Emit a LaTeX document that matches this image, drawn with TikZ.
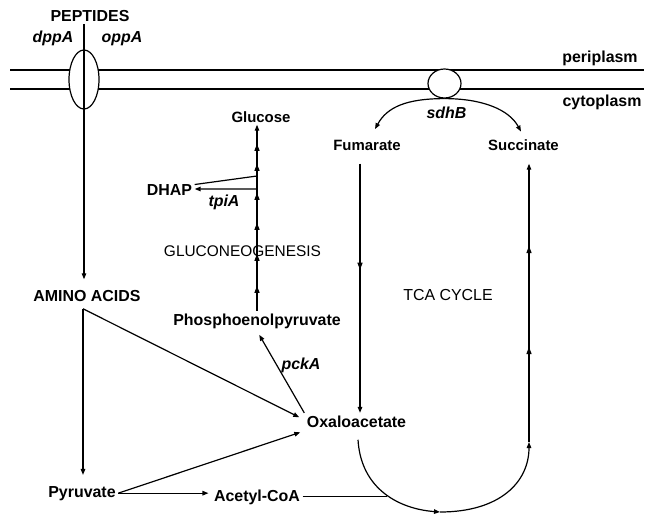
\documentclass[tikz,border=0pt]{standalone}
\usepackage{fontspec}
\setmainfont{Liberation Sans}
\usepackage{tikz}
\usetikzlibrary{arrows.meta,shapes.geometric,decorations.markings}

\begin{document}
\begin{tikzpicture}[>={Triangle[length=6bp,width=4.5bp]}, line width=1.2bp,
	lbl/.style={font=\fontsize{16}{18}\selectfont\bfseries, inner sep=2bp, anchor=base},
	sml/.style={lbl, font=\fontsize{15}{17}\selectfont\bfseries},
	gene/.style={lbl, font=\fontsize{16}{18}\selectfont\bfseries\itshape},
	txt/.style={lbl, font=\fontsize{16}{18}\selectfont},
	pore/.style={draw, fill=white, ellipse, inner sep=0bp}]
	\useasboundingbox (0bp,0bp) rectangle (654bp,-524bp);

	\draw (10bp,-70bp) -- (644bp,-70bp);
	\draw (10bp,-89bp) -- (644bp,-89bp);
	\node[pore, minimum width=30bp, minimum height=59bp] (porin) at (84bp,-79.5bp)  {};
	\node[pore, minimum width=33bp, minimum height=29bp] (sdh)   at (444.5bp,-83.5bp) {};

	\node[lbl]  (peptides) at (90bp,-21bp)     {PEPTIDES};
	\node[gene] (dppA)     at (53bp,-42bp)     {dppA};
	\node[gene] (oppA)     at (122bp,-42bp)    {oppA};
	\node[lbl]  (peri)     at (600bp,-62.5bp)  {periplasm};
	\node[lbl]  (cyto)     at (602bp,-106bp)   {cytoplasm};
	\node[gene] (sdhB)     at (446.5bp,-118bp) {sdhB};
	\node[sml]  (glucose)  at (261bp,-122bp)   {Glucose};
	\node[sml]  (fumarate) at (367bp,-150bp)   {Fumarate};
	\node[sml]  (succ)     at (523.5bp,-150bp) {Succinate};
	\node[lbl]  (dhap)     at (169.5bp,-195bp) {DHAP};
	\node[gene] (tpiA)     at (224bp,-206bp)   {tpiA};
	\node[txt, font=\fontsize{15.5}{17}\selectfont] (gng) at (242.5bp,-256bp) {GLUCONEOGENESIS};
	\node[lbl]  (amino)    at (87bp,-301bp)    {AMINO ACIDS};
	\node[txt]  (tca)      at (448bp,-300bp)   {TCA CYCLE};
	\node[lbl]  (pep)      at (257bp,-325bp)   {Phosphoenolpyruvate};
	\node[gene] (pckA)     at (301bp,-369bp)   {pckA};
	\node[lbl]  (oxa)      at (356.5bp,-427bp) {Oxaloacetate};
	\node[lbl]  (pyr)      at (82bp,-497bp)    {Pyruvate};
	\node[lbl]  (acoa)     at (257bp,-501bp)   {Acetyl-CoA};

	\coordinate (aa)        at ([xshift=-4bp,yshift=-5bp]amino.south);
	\coordinate (dhapin)    at (pep.north |- 0,-176bp);
	\coordinate (dhapout)   at (pep.north |- 0,-189bp);
	\coordinate (fumline)   at ([xshift=-7bp,yshift=-11bp]fumarate.south);
	\coordinate (join)      at (acoa.east -| 387bp,0);
	\coordinate (loopbot)   at (440bp,-512bp);
	\coordinate (loopright) at (529bp,-442bp);

	\draw [->, shorten >=8bp] (peptides.south -| porin) -- (amino.north -| porin);
	\draw [->] (sdh.south) .. controls +(-38bp,0) and +(12bp,22bp) .. ([xshift=8bp,yshift=8bp]fumarate.north);
	\draw [->] (sdh.south) .. controls +(38bp,0) and +(-12bp,22bp) .. ([xshift=-2.5bp,yshift=5bp]succ.north);

	\draw [->, postaction=decorate, decoration={markings,
		mark=at position 25bp with {\arrow{Triangle[length=7bp,width=5bp]}},
		mark=at position 57bp with {\arrow{Triangle[length=7bp,width=5bp]}},
		mark=at position 88bp with {\arrow{Triangle[length=7bp,width=5bp]}},
		mark=at position 118bp with {\arrow{Triangle[length=7bp,width=5bp]}},
		mark=at position 147bp with {\arrow{Triangle[length=7bp,width=5bp]}},
		mark=at position 167bp with {\arrow{Triangle[length=7bp,width=5bp]}}}]
		(pep.north) -- (pep.north |- glucose.south);
	\draw [->] ([yshift=5bp]dhap.east) -- (dhapin) -- (dhapout) -- (dhap.east |- dhapout);

	\draw [->, shorten >=4.5bp] (oxa.north west) -- (pep.south);
	\draw [->, shorten >=8.5bp] (aa) -- (aa |- pyr.north);
	\draw [->] (aa) -- ([xshift=-5bp,yshift=4bp]oxa.west);
	\draw [->] (pyr.east) -- ([xshift=-4bp,yshift=-11bp]oxa.west);
	\draw [->, shorten >=3bp] (pyr.east) -- (pyr.east -| acoa.west);
	\draw (acoa.east) -- (join);

	\draw [->, postaction=decorate, decoration={markings,
		mark=at position 106bp with {\arrow{Triangle[length=7bp,width=5bp]}}}]
		(fumline) -- (fumline |- oxa.north);
	\draw [->] ([xshift=1.5bp,yshift=-10bp]oxa.south) .. controls +(3bp,-50bp) and +(-40bp,3bp) .. (loopbot);
	\draw [->] (loopbot) .. controls +(60bp,0) and +(0,-40bp) .. (loopright);
	\draw [->, shorten >=11bp, postaction=decorate, decoration={markings,
		mark=at position 95bp with {\arrow{Triangle[length=7bp,width=5bp]}},
		mark=at position 196bp with {\arrow{Triangle[length=7bp,width=5bp]}}}]
		(loopright) -- (loopright |- succ.south);
\end{tikzpicture}
\end{document}
